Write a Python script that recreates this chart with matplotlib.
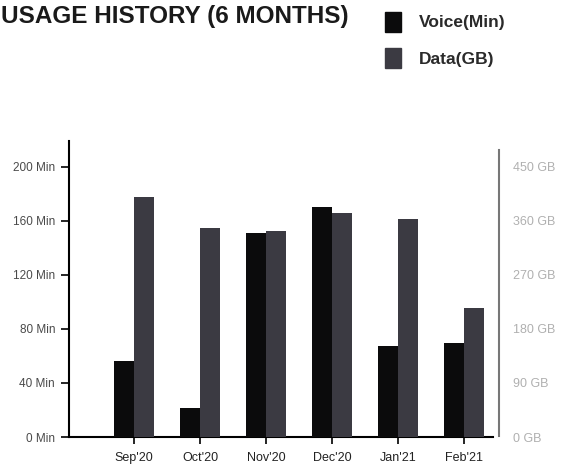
import numpy as np
import matplotlib.pyplot as plt
from matplotlib.patches import Patch

plt.rcParams['font.family'] = ['Liberation Sans', 'DejaVu Sans']

months = ["Sep'20", "Oct'20", "Nov'20", "Dec'20", "Jan'21", "Feb'21"]
voice_min = [56, 21.5, 151, 170, 67, 69.5]     # minutes
data_gb = [400, 348, 343, 373, 363, 215]       # GB

left_ticks = [0, 40, 80, 120, 160, 200]
right_ticks = [0, 90, 180, 270, 360, 450]

voice_col = '#0b0b0c'
data_col = '#3b3a42'

fig = plt.figure(figsize=(5.74, 4.69), dpi=100)
ax = fig.add_axes([69/574, 32/469, 430/574, 296/469])
ax2 = ax.twinx()

x = np.arange(len(months))
w = 0.3
ax.bar(x - w/2, voice_min, w, color=voice_col, zorder=3)
ax2.bar(x + w/2, data_gb, w, color=data_col, zorder=3)

ymax = 219
ax.set_ylim(0, ymax)
ax2.set_ylim(0, ymax * 450 / 200)
ax.set_xlim(-0.985, 5.53)

ax.set_yticks(left_ticks)
ax.set_yticklabels([f'{v} Min' for v in left_ticks], fontsize=8.5, color='#4a4a4a')
ax2.set_yticks(right_ticks)
ax2.set_yticklabels([f'{v} GB' for v in right_ticks], fontsize=9, color='#b0b0b0')
ax.set_xticks(x)
ax.set_xticklabels(months, fontsize=9, color='#222222')

for s in ['top', 'right']:
    ax.spines[s].set_visible(False)
for s in ['top', 'left', 'bottom']:
    ax2.spines[s].set_visible(False)
ax.spines['left'].set_linewidth(1.5)
ax.spines['bottom'].set_linewidth(1.5)
ax.spines['bottom'].set_bounds(-0.985, 5.44)
ax2.spines['right'].set_color('#777777')
ax2.spines['right'].set_linewidth(1.5)
ax2.spines['right'].set_bounds(1.5, 478)

ax.tick_params(axis='y', length=6, width=1.2, pad=4)
ax.tick_params(axis='x', length=5, width=1.2, pad=6)
ax2.tick_params(axis='y', length=0, pad=10)

fig.text(0.001, 0.99, 'USAGE HISTORY (6 MONTHS)', fontsize=17.5, fontweight='bold',
         color='#1a1a1a', ha='left', va='top')

handles = [Patch(color=voice_col, label='Voice(Min)'),
           Patch(color=data_col, label='Data(GB)')]
fig.legend(handles=handles, loc='upper left', bbox_to_anchor=(369/574, 1 + 4/469),
           frameon=False, handlelength=0.95, handleheight=1.4,
           handletextpad=1.0, labelspacing=0.95, prop={'weight': 'bold', 'size': 12.5})
for t in fig.legends[0].get_texts():
    t.set_color('#2a2a2a')

fig.savefig('out.png', dpi=100)
